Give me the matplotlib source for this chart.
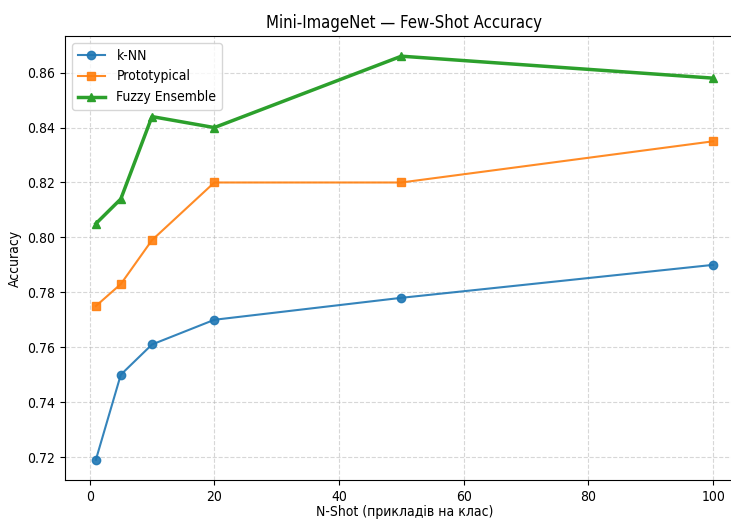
import numpy as np
import matplotlib.pyplot as plt

plt.rcParams['font.stretch'] = 'condensed'

# N-shot values and accuracies
shots = [1, 5, 10, 20, 50, 100]
knn = [0.719, 0.750, 0.761, 0.770, 0.778, 0.790]
proto = [0.775, 0.783, 0.799, 0.820, 0.820, 0.835]
fuzzy = [0.805, 0.814, 0.844, 0.840, 0.866, 0.858]

fig = plt.figure(figsize=(7.31, 5.20), dpi=100)
ax = fig.add_axes([65 / 731, 40 / 520, 679 / 731, 444 / 520])

ax.plot(shots, knn, marker='o', alpha=0.9, label='k-NN')
ax.plot(shots, proto, marker='s', alpha=0.9, label='Prototypical')
ax.plot(shots, fuzzy, marker='^', linewidth=2.5, label='Fuzzy Ensemble')

ax.set_title("Mini-ImageNet — Few-Shot Accuracy")
ax.set_xlabel("N-Shot (прикладів на клас)", labelpad=1)
ax.set_ylabel("Accuracy")
ax.grid(True, linestyle='--', alpha=0.5)
ax.legend(loc='upper left')

fig.savefig("out.png", dpi=100)
